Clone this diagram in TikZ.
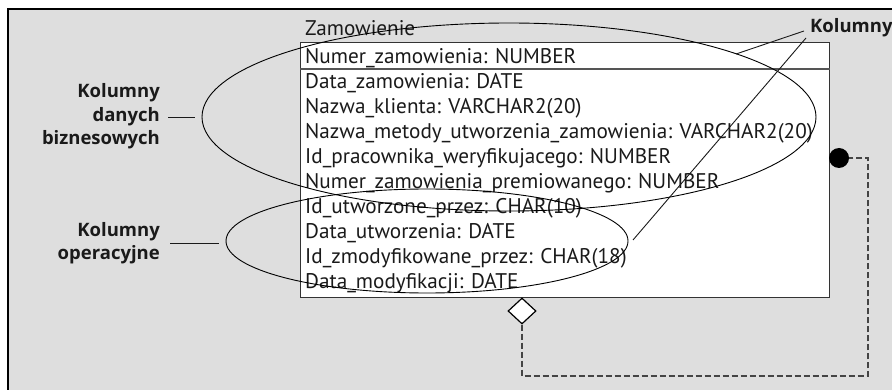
\documentclass[tikz,border=0pt]{standalone}
\usepackage{fontspec}
\setmainfont{PT Sans}
\newfontfamily\lblfont{Open Sans}
\usetikzlibrary{shapes.geometric}
\definecolor{bggray}{HTML}{DEDEDE}
\definecolor{boxline}{HTML}{333333}
\definecolor{sepline}{HTML}{555555}
\definecolor{dashcol}{HTML}{444444}
\definecolor{txt}{HTML}{1A1A1A}
\tikzset{
  row/.style={anchor=base west, inner sep=0pt, font=\fontsize{21.2}{25}\selectfont, text=txt},
  lbl/.style={align=right, anchor=east, inner sep=0pt, font=\lblfont\fontsize{18.5}{23.5}\selectfont\bfseries, text=txt},
  oval/.style={draw=black, line width=0.9pt, ellipse, inner sep=0pt},
  leader/.style={draw=txt, line width=0.9pt},
  dashlink/.style={draw=dashcol, line width=1.2pt, dash pattern=on 6pt off 3pt},
}
\begin{document}
\begin{tikzpicture}[x=1pt,y=-1pt]
\useasboundingbox (0,0) rectangle (892,390);
% background panel
\fill[bggray] (8,9) rectangle (892,390);
\draw[black, line width=2pt] (8,390) -- (8,9) -- (892,9);
% class box
\node[draw=boxline, fill=white, line width=1.2pt, rectangle, inner sep=0pt,
      minimum width=529pt, minimum height=255pt, anchor=north west] (box) at (300,42) {};
\draw[sepline, line width=2pt] (box.west |- 0,69) -- (box.east |- 0,69);
\node[row] (title) at (305,36) {Zamowienie};
\node[row] (r1) at (305,64) {Numer\_zamowienia: NUMBER};
\node[row] (r2) at (305,89) {Data\_zamowienia: DATE};
\node[row] (r3) at (305,114) {Nazwa\_klienta: VARCHAR2(20)};
\node[row] (r4) at (305,139) {Nazwa\_metody\_utworzenia\_zamowienia: VARCHAR2(20)};
\node[row] (r5) at (305,164) {Id\_pracownika\_weryfikujacego: NUMBER};
\node[row] (r6) at (305,189) {Numer\_zamowienia\_premiowanego: NUMBER};
\node[row] (r7) at (305,214) {Id\_utworzone\_przez: CHAR(10)};
\node[row] (r8) at (305,239) {Data\_utworzenia: DATE};
\node[row] (r9) at (305,264) {Id\_zmodyfikowane\_przez: CHAR(18)};
\node[row] (r10) at (305,289) {Data\_modyfikacji: DATE};
% ellipses
\node[oval, minimum width=614pt, minimum height=188pt] (biz) at (509,117) {};
\node[oval, minimum width=402pt, minimum height=104pt] (ops) at (427,241) {};
% labels
\node[lbl] (lbiz) at (160,116.5) {Kolumny\\danych\\biznesowych};
\node[lbl] (lops) at (160,243) {Kolumny\\operacyjne};
\node[anchor=base west, inner sep=0pt, font=\lblfont\fontsize{18.5}{23.5}\selectfont\bfseries, text=txt] (lkol) at (810,33) {Kolumny};
\coordinate (bizL1) at (168,117);
\coordinate (bizL2) at (195,117);
\coordinate (opsL1) at (170,243);
\coordinate (opsL2) at (219,243);
\draw[leader] (bizL1) -- (bizL2);
\draw[leader] (opsL1) -- (opsL2);
\coordinate (k1) at (804,31);
\coordinate (k1e) at (736,54);
\coordinate (k2) at (806,38);
\coordinate (k2e) at (633,240);
\draw[leader] (k1) -- (k1e);
\draw[leader] (k2) -- (k2e);
% aggregation diamond and dot
\node[diamond, draw=black, fill=white, line width=1.2pt, inner sep=0pt,
      minimum width=28pt, minimum height=26pt] (dia) at (522,311) {};
\node[circle, fill=black, inner sep=0pt, minimum size=20pt] (dot) at (839,158) {};
\coordinate (cornerBL) at (522,376);
\coordinate (cornerTR) at (868,158);
\draw[dashlink] (dia.south) -- (cornerBL) -| (cornerTR) -- (dot.east);
\end{tikzpicture}
\end{document}
